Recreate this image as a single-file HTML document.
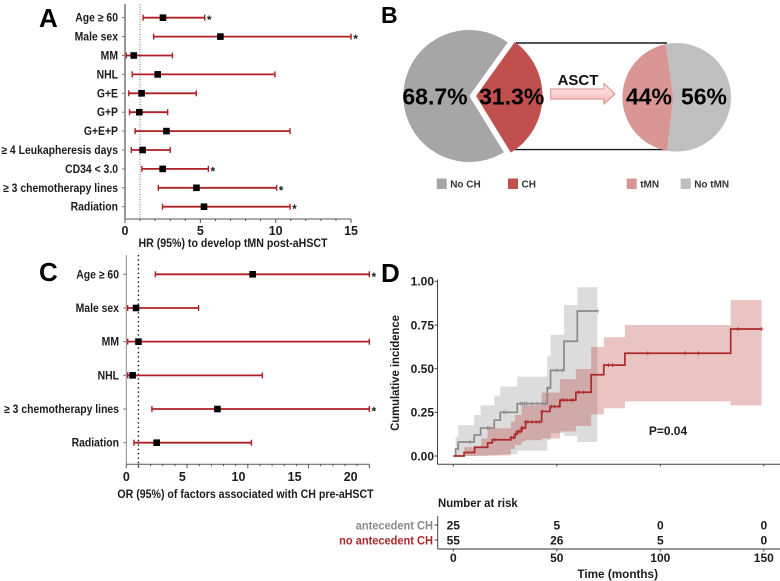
<!DOCTYPE html>
<html lang="en">
<head>
<meta charset="utf-8">
<title>CH and tMN risk after aHSCT</title>
<style>
html,body{margin:0;padding:0;background:#fff;}
svg{display:block;filter:blur(0.3px);}
text{font-family:"Liberation Sans","DejaVu Sans",sans-serif;font-weight:bold;fill:#1c1c1c;}
</style>
</head>
<body>
<svg id="fig" xmlns="http://www.w3.org/2000/svg" width="780" height="581" viewBox="0 0 780 581">
  <defs>
    <linearGradient id="arrowFill" x1="0" y1="0" x2="0" y2="1">
      <stop offset="0" stop-color="#fff0f0"/>
      <stop offset="1" stop-color="#f7b4b4"/>
    </linearGradient>
  </defs>
  <rect width="780" height="581" fill="#fff"/>
  <text x="39" y="27" font-size="26" style="fill:#000">A</text>
  <text x="381" y="23" font-size="23" style="fill:#000">B</text>
  <text x="39" y="281" font-size="26" style="fill:#000">C</text>
  <text x="381" y="282" font-size="26" style="fill:#000">D</text>
  <g id="panelA"></g>
  <g id="panelB"></g>
  <g id="panelC"></g>
  <g id="panelD"></g>
</svg>
<script>
// Panel A data
const aLabels = ["Age ≥ 60","Male sex","MM","NHL","G+E","G+P","G+E+P","≥ 4 Leukapheresis days","CD34 < 3.0","≥ 3 chemotherapy lines","Radiation"];
const aLow  = [1.2,1.9,0.08,0.48,0.25,0.3,0.67,0.42,1.12,2.21,2.49];
const aMid  = [2.52,6.33,0.58,2.17,1.1,0.95,2.75,1.17,2.5,4.74,5.24];
const aHigh = [5.29,15,3.15,9.95,4.73,2.83,10.95,3.0,5.53,10.06,10.95];
const aSig  = [true,true,false,false,false,false,false,false,true,true,true];
const aTicks = [0,5,10,15];

// Panel C data
const cLabels = ["Age ≥ 60","Male sex","MM","NHL","≥ 3 chemotherapy lines","Radiation"];
const cLow  = [2.39,0.11,0.11,0.11,2.11,0.63];
const cMid  = [10.4,0.8,1.0,0.52,7.5,2.5];
const cHigh = [20,5.95,20,11.2,20,10.3];
const cSig  = [true,false,false,false,true,false];
const cTicks = [0,5,10,15,20];

// Panel B data
const leftPieLabels = ["No CH","CH"];
const leftPieValues = [68.7,31.3];
const rightPieLabels = ["tMN","No tMN"];
const rightPieValues = [44,56];

// Panel D data
const grayTimes = [1.1,2.4,10.1,13.2,19.8,22.7,30.9,45.4,47,53.5,59.9];
const grayCurve = [0.04,0.08,0.12,0.16,0.205,0.25,0.30,0.39,0.49,0.657,0.83];
const grayUpper = [0.11,0.177,0.235,0.29,0.345,0.397,0.454,0.572,0.693,0.864,0.966];
const grayLower = [0,0.001,0.002,0.003,0.005,0.01,0.03,0.09,0.13,0.115,0.08];
const grayEnd = 69.6;
const grayCensor = [8,16.5,17.5,24.5,25.5,32.5,33.5,34.5,35.5,38,40.5,43,44.5,46,50,52.5,69.6];
const redTimes = [5.2,10.3,16.6,18.8,27.8,29.8,30.9,33,34.9,42.7,46.7,51.5,59.2,66.6,72.7,82.9,134];
const redCurve = [0.02,0.05,0.075,0.093,0.105,0.125,0.14,0.16,0.195,0.255,0.283,0.32,0.365,0.465,0.52,0.588,0.727];
const redBandTimes = [5.2,13.5,16.6,27.8,29.8,33,34.9,42.7,51.5,59.2,66.6,72.7,82.9,134];
const redUpper = [0.05,0.1,0.158,0.197,0.235,0.29,0.29,0.363,0.44,0.498,0.624,0.68,0.75,0.893];
const redLower = [0,0.001,0.003,0.04,0.063,0.082,0.09,0.1,0.14,0.172,0.238,0.273,0.313,0.29];
const redEnd = 148.9;
const redCensor = [20,28,29,30,31,31.7,32.3,33,33.6,35,36,38,40,41.5,43,47.5,49,51,52.5,53.5,55,57,58,60.5,63,75,77,94,112,118.5,137.5,148.9];
const dYTicks = [0,0.25,0.5,0.75,1];
const dXTicks = [0,50,100,150];
const riskGroups = ["antecedent CH","no antecedent CH"];
const riskGray = [25,5,0,0];
const riskRed = [55,26,5,0];

const NS = "http://www.w3.org/2000/svg";
function mk(parent, tag, attrs, txt) {
  const el = document.createElementNS(NS, tag);
  for (const k in attrs) el.setAttribute(k, attrs[k]);
  if (txt !== undefined) el.textContent = txt;
  parent.appendChild(el);
  return el;
}
function fit(el, factor) {
  const w = el.getComputedTextLength();
  el.setAttribute('textLength', (w * factor).toFixed(2));
  el.setAttribute('lengthAdjust', 'spacingAndGlyphs');
}

function forest(root, cfg) {
  const x = v => cfg.x0 + v * cfg.pxPerUnit;
  const axisY = mk(root, 'line', {x1:cfg.x0,x2:cfg.x0,y1:cfg.yTop,y2:cfg.yBase,stroke:cfg.axisColor,'stroke-width':cfg.axisWidth});
  
  
  const axisX = mk(root, 'line', {x1:cfg.x0,x2:x(cfg.xMax),y1:cfg.yBase,y2:cfg.yBase,stroke:'#555','stroke-width':1});
  
  
  const ref = mk(root, 'line', {x1:x(1),x2:x(1),y1:cfg.yTop,y2:cfg.refBottom,stroke:cfg.refColor,'stroke-width':cfg.refWidth,'stroke-dasharray':cfg.refDash});
  
  
  for (let v = 0; v <= cfg.xMax; v++) {
    const major = v % 5 === 0;
    const tick = mk(root, 'line', {x1:x(v),x2:x(v),y1:cfg.yBase,y2:cfg.yBase + (major ? 4 : 2),stroke:'#555','stroke-width':1});
    
    
  }
  cfg.ticks.forEach((t, i) => {
    const lab = mk(root, 'text', {x:x(t) + cfg.tickShift * t, y:cfg.tickBaseline,'font-size':12.5,'text-anchor':'middle'}, String(t));
    
    
  });
  const title = mk(root, 'text', {x:cfg.titleX,y:cfg.titleBaseline,'font-size':11.5,'text-anchor':'middle'}, cfg.title);
  
  
  fit(title, 0.922);
  cfg.labels.forEach((name, i) => {
    const y = cfg.yFirst + i * cfg.rowStep;
    const row = mk(root, 'g', {});
    
    
    const lab = mk(row, 'text', {x:cfg.labelEnd,y:y + 4,'font-size':11.5,'text-anchor':'end'}, name);
    
    
    fit(lab, 0.904);
    const tk = mk(row, 'line', {x1:cfg.x0 - 3,x2:cfg.x0,y1:y,y2:y,stroke:'#777','stroke-width':1});
    
    
    const bar = mk(row, 'line', {x1:x(cfg.low[i]),x2:x(cfg.high[i]),y1:y,y2:y,stroke:'#b01f24','stroke-width':1.8});
    
    
    const capL = mk(row, 'line', {x1:x(cfg.low[i]),x2:x(cfg.low[i]),y1:y - 3,y2:y + 3,stroke:'#b01f24','stroke-width':1.4});
    
    
    const capH = mk(row, 'line', {x1:x(cfg.high[i]),x2:x(cfg.high[i]),y1:y - 3,y2:y + 3,stroke:'#b01f24','stroke-width':1.4});
    
    
    const pt = mk(row, 'rect', {x:x(cfg.mid[i]) - 3.3,y:y - 3.3,width:6.6,height:6.6,fill:'#000'});
    
    
    if (cfg.sig[i]) {
      const st = mk(row, 'text', {x:x(cfg.high[i]) + 4.5,y:y + 6.5,'font-size':12,'text-anchor':'middle'}, '*');
      
      
    }
  });
}

forest(document.getElementById('panelA'), {
  labels:aLabels, low:aLow, mid:aMid, high:aHigh, sig:aSig, ticks:aTicks,
  x0:125, pxPerUnit:15.07, xMax:15, yTop:4, yBase:219, refBottom:219, yFirst:17.7, rowStep:18.9,
  axisColor:'#9a9a9a', axisWidth:2, refColor:'#777', refWidth:1, refDash:'1 1.5',
  tickBaseline:235, tickShift:0, title:"HR (95%) to develop tMN post-aHSCT", titleX:233, titleBaseline:247,
  labelEnd:118
});
forest(document.getElementById('panelC'), {
  labels:cLabels, low:cLow, mid:cMid, high:cHigh, sig:cSig, ticks:cTicks,
  x0:126.3, pxPerUnit:12.15, xMax:20, yTop:255, yBase:464.3, refBottom:470, yFirst:274.3, rowStep:33.68,
  axisColor:'#8a8a8a', axisWidth:1, refColor:'#111', refWidth:1.4, refDash:'1.4 3',
  tickBaseline:481, tickShift:-0.93, title:"OR (95%) of factors associated with CH pre-aHSCT", titleX:245.5, titleBaseline:498,
  labelEnd:119
});

// Panel B pies
function polar(cx, cy, r, deg) {
  const a = deg * Math.PI / 180;
  return [cx + r * Math.sin(a), cy - r * Math.cos(a)];
}
function slice(ax, ay, cx, cy, r, startDeg, pct) {
  const sweep = pct * 3.6;
  const p1 = polar(cx, cy, r, startDeg);
  const p2 = polar(cx, cy, r, startDeg + sweep);
  return `M${ax} ${ay}L${p1[0]} ${p1[1]}A${r} ${r} 0 ${sweep > 180 ? 1 : 0} 1 ${p2[0]} ${p2[1]}Z`;
}
const pb = document.getElementById('panelB');
const connTop = mk(pb, 'line', {x1:516,x2:667,y1:43,y2:43,stroke:'#1a1a1a','stroke-width':1.4});


const connBot = mk(pb, 'line', {x1:511,x2:667,y1:149.6,y2:149.6,stroke:'#1a1a1a','stroke-width':1.4});


const pieLeftStart = 35.7;
const sliceNoCH = mk(pb, 'path', {d:slice(469.3,96,469.3,96,66,pieLeftStart + leftPieValues[1] * 3.6,leftPieValues[0]),fill:'#a6a6a6'});


const sliceCH = mk(pb, 'path', {d:slice(476,96,476,96,66.5,pieLeftStart,leftPieValues[1]),fill:'#c0504d'});


const pieRightStart = 190;
const sliceTMN = mk(pb, 'path', {d:slice(673.3,96.7,676.7,97.3,54.3,pieRightStart,rightPieValues[0]),fill:'#d99694'});


const sliceNoTMN = mk(pb, 'path', {d:slice(673.3,96.7,676.7,97.3,54.3,pieRightStart + rightPieValues[0] * 3.6,rightPieValues[1]),fill:'#bfbfbf'});


const pct = (v) => v + '%';
const lblA = mk(pb, 'text', {x:435,y:104.5,'font-size':23,'text-anchor':'middle',style:'fill:#000'}, pct(leftPieValues[0]));


const lblB = mk(pb, 'text', {x:511.7,y:104.5,'font-size':23,'text-anchor':'middle',style:'fill:#000'}, pct(leftPieValues[1]));


const lblC = mk(pb, 'text', {x:649,y:104.5,'font-size':23,'text-anchor':'middle',style:'fill:#000'}, pct(rightPieValues[0]));


const lblD = mk(pb, 'text', {x:704,y:104.5,'font-size':23,'text-anchor':'middle',style:'fill:#000'}, pct(rightPieValues[1]));


const arrow = mk(pb, 'path', {d:'M550.7 89H604V83.5L615 94L604 104V99H550.7Z',fill:'url(#arrowFill)',stroke:'#d88d8c','stroke-width':1});


const asct = mk(pb, 'text', {x:578,y:85,'font-size':15,'text-anchor':'middle',style:'fill:#111'}, 'ASCT');


const legendItems = [[436.7,leftPieLabels[0],'#a6a6a6'],[508,leftPieLabels[1],'#c0504d'],[626.7,rightPieLabels[0],'#d99694'],[680.7,rightPieLabels[1],'#bfbfbf']];
legendItems.forEach(it => {
  const g = mk(pb, 'g', {});
  
  
  const sw = mk(g, 'rect', {x:it[0],y:178.5,width:10,height:10.5,fill:it[2]});
  
  
  const tx = mk(g, 'text', {x:it[0] + 13.5,y:187.5,'font-size':10.5,style:'fill:#333'}, it[1]);
  
  
  fit(tx, 0.95);
});

// Panel D
const pd = document.getElementById('panelD');
const dx = t => 453.3 + t * 2.07;
const dy = v => 456 - v * 174.7;
function band(times, up, lo, end) {
  let top = '', bot = '';
  times.forEach((t, i) => {
    const next = i + 1 < times.length ? times[i + 1] : end;
    top += `${i ? 'L' : 'M'}${dx(t)} ${dy(up[i])}L${dx(next)} ${dy(up[i])}`;
  });
  for (let i = times.length - 1; i >= 0; i--) {
    const next = i + 1 < times.length ? times[i + 1] : end;
    bot += `L${dx(next)} ${dy(lo[i])}L${dx(times[i])} ${dy(lo[i])}`;
  }
  return top + bot + 'Z';
}
function stepLine(start, times, vals, end) {
  let d = `M${dx(start)} ${dy(0)}`;
  times.forEach((t, i) => { d += `H${dx(t)}V${dy(vals[i])}`; });
  return d + `H${dx(end)}`;
}
function stepAt(times, vals, t) {
  let v = 0;
  times.forEach((tt, i) => { if (tt <= t) v = vals[i]; });
  return v;
}
const bandGray = mk(pd, 'path', {d:band(grayTimes,grayUpper,grayLower,grayEnd),fill:'#9e9e9e','fill-opacity':0.36});


const bandRed = mk(pd, 'path', {d:band(redBandTimes,redUpper,redLower,redEnd),fill:'#b22222','fill-opacity':0.27});


const lineGray = mk(pd, 'path', {d:stepLine(0.8,grayTimes,grayCurve,grayEnd),fill:'none',stroke:'#8a8a8a','stroke-width':1.7});


const lineRed = mk(pd, 'path', {d:stepLine(0,redTimes,redCurve,redEnd),fill:'none',stroke:'#ad2a2a','stroke-width':1.7});


grayCensor.forEach(t => {
  const y = dy(stepAt(grayTimes, grayCurve, t));
  const c = mk(pd, 'path', {d:`M${dx(t) - 2} ${y}H${dx(t) + 2}M${dx(t)} ${y - 2}V${y + 2}`,stroke:'#8a8a8a','stroke-width':0.8,fill:'none'});
  
  
});
redCensor.forEach(t => {
  const y = dy(stepAt(redTimes, redCurve, t));
  const c = mk(pd, 'path', {d:`M${dx(t) - 2} ${y}H${dx(t) + 2}M${dx(t)} ${y - 2}V${y + 2}`,stroke:'#ad2a2a','stroke-width':0.8,fill:'none'});
  
  
});
const dAxisY = mk(pd, 'line', {x1:437.5,x2:437.5,y1:279.5,y2:464.3,stroke:'#444','stroke-width':1});


const dAxisX = mk(pd, 'line', {x1:437.5,x2:780,y1:464.3,y2:464.3,stroke:'#444','stroke-width':1});


dYTicks.forEach(v => {
  const tk = mk(pd, 'line', {x1:434.5,x2:437.5,y1:dy(v),y2:dy(v),stroke:'#444','stroke-width':1});
  
  
  const lab = mk(pd, 'text', {x:434,y:dy(v) + 4.3,'font-size':12,'text-anchor':'end'}, v.toFixed(2));
  
  
});
const dYTitle = mk(pd, 'text', {x:0,y:0,'font-size':11.5,'text-anchor':'middle',transform:'translate(399 373) rotate(-90)'}, 'Cumulative incidence');


fit(dYTitle, 0.98);
const pVal = mk(pd, 'text', {x:668,y:435,'font-size':11.5,'text-anchor':'middle'}, 'P=0.04');


fit(pVal, 1.04);
const riskTitle = mk(pd, 'text', {x:438,y:507,'font-size':11.5}, 'Number at risk');


fit(riskTitle, 0.99);
const riskAxisY = mk(pd, 'line', {x1:437.7,x2:437.7,y1:516,y2:549,stroke:'#444','stroke-width':1});


const riskAxisX = mk(pd, 'line', {x1:437.7,x2:780,y1:549,y2:549,stroke:'#777','stroke-width':1.6});


const riskRows = [[525,riskGroups[0],riskGray,'#8a8a8a'],[540,riskGroups[1],riskRed,'#a92a2a']];
riskRows.forEach(r => {
  const lab = mk(pd, 'text', {x:433,y:r[0] + 4.3,'font-size':12,'text-anchor':'end',style:'fill:' + r[3]}, r[1]);
  
  
  fit(lab, 0.92);
  const tk = mk(pd, 'line', {x1:434.5,x2:437.7,y1:r[0],y2:r[0],stroke:'#444','stroke-width':1});
  
  
  r[2].forEach((n, i) => {
    const cell = mk(pd, 'text', {x:dx(dXTicks[i]),y:r[0] + 4.3,'font-size':12,'text-anchor':'middle'}, String(n));
    
    
  });
});
dXTicks.forEach(t => {
  const tk1 = mk(pd, 'line', {x1:dx(t),x2:dx(t),y1:464.3,y2:466.5,stroke:'#444','stroke-width':1});
  
  
  const tk2 = mk(pd, 'line', {x1:dx(t),x2:dx(t),y1:549,y2:551.5,stroke:'#444','stroke-width':1});
  
  
  const lab = mk(pd, 'text', {x:dx(t),y:562,'font-size':12,'text-anchor':'middle'}, String(t));
  
  
});
const timeTitle = mk(pd, 'text', {x:617.7,y:578,'font-size':11.5,'text-anchor':'middle'}, 'Time (months)');


fit(timeTitle, 1.02);
</script>
</body>
</html>
